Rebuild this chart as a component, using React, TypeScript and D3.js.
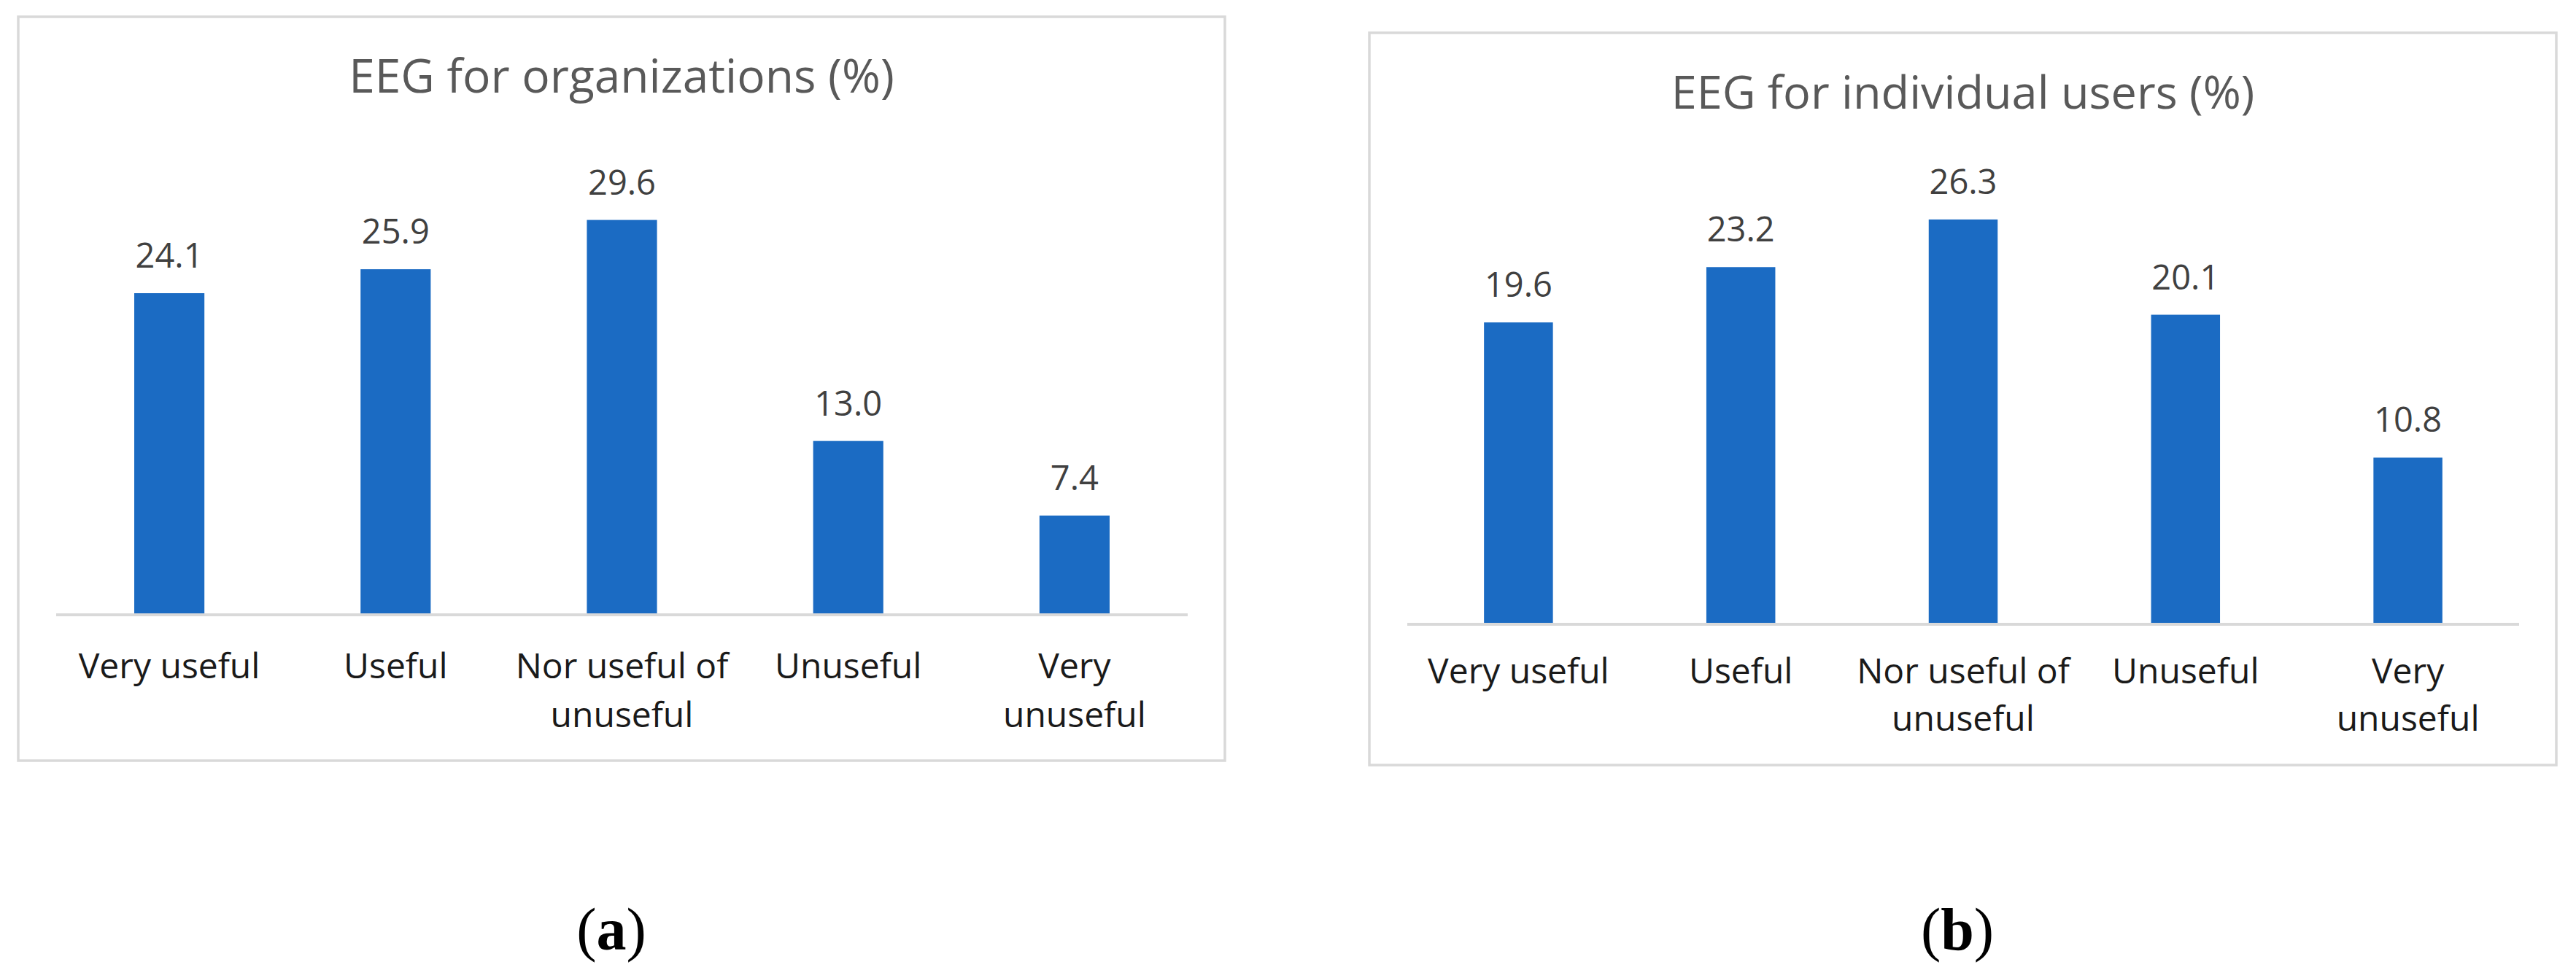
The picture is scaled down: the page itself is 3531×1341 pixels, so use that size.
import React from "react";
import * as d3 from "d3";

// categories (x axis), shared by both panels
const categories = [
  "Very useful",
  "Useful",
  "Nor useful of unuseful",
  "Unuseful",
  "Very unuseful",
];
// how the tick labels wrap in the original
const categoryLines = [
  ["Very useful"],
  ["Useful"],
  ["Nor useful of", "unuseful"],
  ["Unuseful"],
  ["Very", "unuseful"],
];

const orgValues = [24.1, 25.9, 29.6, 13.0, 7.4];
const userValues = [19.6, 23.2, 26.3, 20.1, 10.8];

const orgTitle = "EEG for organizations (%)";
const userTitle = "EEG for individual users (%)";

const WIDTH = 3531;
const HEIGHT = 1341;
const BAR_COLOR = "#1b6bc3";
const FONT = "'Open Sans', 'Noto Sans', sans-serif";

interface PanelProps {
  x0: number;
  y0: number;
  x1: number;
  y1: number;
  title: string;
  titleSize: number;
  values: number[];
  yMax: number;
  baseOff: number;
  topOff: number;
  labelOff: number;
  lineGap: number;
  caption: string;
  captionX: number;
}

const Panel: React.FC<PanelProps> = ({
  x0,
  y0,
  x1,
  y1,
  title,
  titleSize,
  values,
  yMax,
  baseOff,
  topOff,
  labelOff,
  lineGap,
  caption,
  captionX,
}) => {
  const plotLeft = x0 + 52;
  const plotRight = x1 - 51;
  const baseline = y0 + baseOff;
  const plotTop = y0 + topOff;

  const x = d3
    .scaleBand()
    .domain(categories)
    .range([plotLeft, plotRight])
    .paddingInner(0.69)
    .paddingOuter(0.345);

  const y = d3.scaleLinear().domain([0, yMax]).range([baseline, plotTop]);

  const cx = (x0 + x1) / 2;

  return (
    <g>
      {/* chart area border */}
      <rect
        x={x0}
        y={y0}
        width={x1 - x0}
        height={y1 - y0}
        fill="#fff"
        stroke="#d9d9d9"
        strokeWidth={3.5}
      />
      <text
        x={cx}
        y={y0 + 104}
        textAnchor="middle"
        fontFamily={FONT}
        fontSize={titleSize}
        fill="#595959"
      >
        {title}
      </text>

      {values.map((v, i) => {
        const bx = x(categories[i]) as number;
        return (
          <g key={categories[i]}>
            <rect
              x={bx}
              y={y(v)}
              width={x.bandwidth()}
              height={y(0) - y(v)}
              fill={BAR_COLOR}
            />
            <text
              x={bx + x.bandwidth() / 2}
              y={y(v) - 35}
              textAnchor="middle"
              fontFamily={FONT}
              fontSize={47}
              fill="#404040"
            >
              {d3.format(".1f")(v)}
            </text>
          </g>
        );
      })}

      {/* x axis line */}
      <line
        x1={plotLeft}
        x2={plotRight}
        y1={baseline + 1}
        y2={baseline + 1}
        stroke="#d9d9d9"
        strokeWidth={4}
      />

      {categories.map((c, i) => {
        const tx = (x(c) as number) + x.bandwidth() / 2;
        return (
          <text
            key={c}
            x={tx}
            y={baseline + labelOff}
            textAnchor="middle"
            fontFamily={FONT}
            fontSize={48}
            fill="#1a1a1a"
          >
            {categoryLines[i].map((line, j) => (
              <tspan key={j} x={tx} dy={j === 0 ? 0 : lineGap}>
                {line}
              </tspan>
            ))}
          </text>
        );
      })}

      <text
        x={captionX}
        y={1302}
        textAnchor="middle"
        fontFamily="'Liberation Serif', 'Times New Roman', serif"
        fontSize={82}
        fill="#000"
      >
        (<tspan fontWeight="bold">{caption}</tspan>)
      </text>
    </g>
  );
};

export default function App() {
  return (
    <svg
      width={WIDTH}
      height={HEIGHT}
      viewBox={`0 0 ${WIDTH} ${HEIGHT}`}
      style={{ position: "absolute", left: 0, top: 0, background: "#fff" }}
    >
      <rect width={WIDTH} height={HEIGHT} fill="#fff" />
      <Panel
        x0={25}
        y0={23}
        x1={1679}
        y1={1043}
        title={orgTitle}
        titleSize={64}
        values={orgValues}
        yMax={35}
        baseOff={819}
        topOff={180}
        labelOff={88}
        lineGap={67}
        caption="a"
        captionX={838}
      />
      <Panel
        x0={1877}
        y0={45}
        x1={3504}
        y1={1049}
        title={userTitle}
        titleSize={63}
        values={userValues}
        yMax={30}
        baseOff={810}
        topOff={178}
        labelOff={82}
        lineGap={65}
        caption="b"
        captionX={2683}
      />
    </svg>
  );
}
